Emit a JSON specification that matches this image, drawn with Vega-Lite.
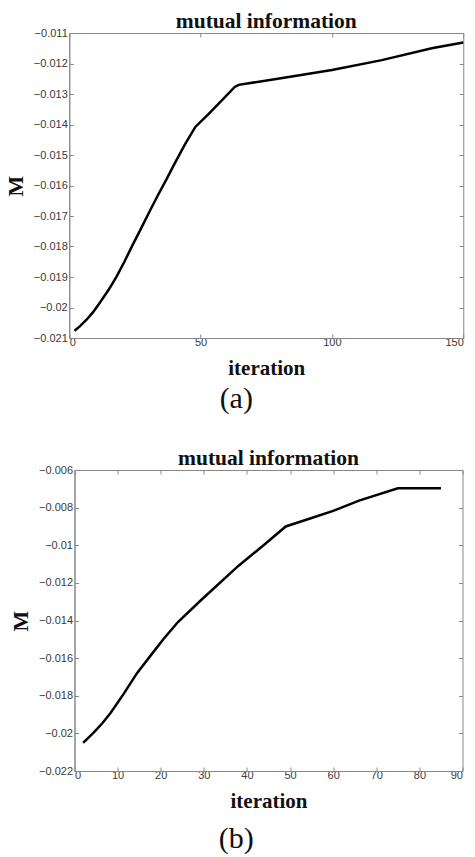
{
  "$schema": "https://vega.github.io/schema/vega-lite/v6.json",
  "background": "white",
  "padding": {"left": 3, "top": 10, "right": 0, "bottom": 0},
  "spacing": 33,
  "center": true,
  "datasets": {
    "a": [
      {"iteration": 2, "M": -0.02076},
      {"iteration": 4, "M": -0.02062},
      {"iteration": 6.5, "M": -0.02041},
      {"iteration": 9, "M": -0.02016},
      {"iteration": 11.5, "M": -0.01986},
      {"iteration": 15, "M": -0.01942},
      {"iteration": 18, "M": -0.01899},
      {"iteration": 21, "M": -0.01850},
      {"iteration": 24, "M": -0.01797},
      {"iteration": 27.5, "M": -0.01738},
      {"iteration": 31, "M": -0.01678},
      {"iteration": 34, "M": -0.01628},
      {"iteration": 37, "M": -0.01580},
      {"iteration": 40, "M": -0.01530},
      {"iteration": 44, "M": -0.01466},
      {"iteration": 48, "M": -0.01408},
      {"iteration": 53, "M": -0.01366},
      {"iteration": 58, "M": -0.01322},
      {"iteration": 63, "M": -0.01277},
      {"iteration": 64.5, "M": -0.01270},
      {"iteration": 80, "M": -0.01249},
      {"iteration": 100, "M": -0.01221},
      {"iteration": 119, "M": -0.01189},
      {"iteration": 138, "M": -0.01150},
      {"iteration": 150, "M": -0.01131}
    ],
    "b": [
      {"iteration": 2, "M": -0.02050},
      {"iteration": 4.5, "M": -0.01995},
      {"iteration": 6.5, "M": -0.01945},
      {"iteration": 8.4, "M": -0.01890},
      {"iteration": 11.4, "M": -0.01790},
      {"iteration": 14.5, "M": -0.01680},
      {"iteration": 17.6, "M": -0.01588},
      {"iteration": 20.7, "M": -0.01497},
      {"iteration": 24, "M": -0.01408},
      {"iteration": 29.2, "M": -0.01295},
      {"iteration": 38, "M": -0.01110},
      {"iteration": 44, "M": -0.00997},
      {"iteration": 49, "M": -0.00900},
      {"iteration": 55, "M": -0.00855},
      {"iteration": 60, "M": -0.00817},
      {"iteration": 66, "M": -0.00763},
      {"iteration": 75, "M": -0.00697},
      {"iteration": 85, "M": -0.00697}
    ]
  },
  "config": {
    "view": {"stroke": "#888888", "strokeWidth": 1},
    "axis": {
      "grid": false,
      "domainColor": "#888888",
      "tickColor": "#888888",
      "tickSize": -4,
      "labelFont": "Liberation Sans",
      "labelFontSize": 11,
      "labelColor": "#3a3a3a",
      "labelPadding": 6,
      "titleFont": "Liberation Serif",
      "titleFontWeight": "bold",
      "titleColor": "#111111"
    },
    "axisX": {"labelPadding": 2},
    "title": {"font": "Liberation Serif", "color": "#111111", "anchor": "middle"}
  },
  "vconcat": [
    {
      "title": {"text": "(a)", "orient": "bottom", "fontSize": 30, "fontWeight": "normal", "offset": 5, "anchor": "middle"},
      "vconcat": [
        {
          "title": {"text": "mutual information", "fontSize": 21.5, "fontWeight": "bold", "offset": -5, "anchor": "middle"},
          "width": 394,
          "height": 305,
          "data": {"name": "a"},
          "layer": [
            {
              "mark": {"type": "line", "color": "black", "strokeWidth": 2.5},
              "encoding": {
                "x": {"field": "iteration", "type": "quantitative", "scale": {"domain": [0, 150], "nice": false},
                  "axis": {"values": [0, 50, 100, 150], "format": "d", "title": "iteration", "titleFontSize": 21, "titlePadding": 10}},
                "y": {"field": "M", "type": "quantitative", "scale": {"domain": [-0.021, -0.011], "nice": false, "zero": false},
                  "axis": {"values": [-0.021, -0.02, -0.019, -0.018, -0.017, -0.016, -0.015, -0.014, -0.013, -0.012, -0.011], "format": ".3~f", "title": "M", "titleFontSize": 22, "titlePadding": 6}}
              }
            },
            {
              "mark": {"type": "line", "opacity": 0},
              "encoding": {
                "x": {"field": "iteration", "type": "quantitative",
                  "axis": {"orient": "top", "values": [0, 50, 100, 150], "labels": false, "title": null, "domain": false}},
                "y": {"field": "M", "type": "quantitative",
                  "axis": {"orient": "right", "values": [-0.021, -0.02, -0.019, -0.018, -0.017, -0.016, -0.015, -0.014, -0.013, -0.012, -0.011], "labels": false, "title": null, "domain": false}}
              }
            }
          ],
          "resolve": {"axis": {"x": "independent", "y": "independent"}}
        }
      ]
    },
    {
      "title": {"text": "(b)", "orient": "bottom", "fontSize": 30, "fontWeight": "normal", "offset": 12, "anchor": "middle"},
      "vconcat": [
        {
          "title": {"text": "mutual information", "fontSize": 21.5, "fontWeight": "bold", "offset": -5, "anchor": "middle"},
          "width": 388,
          "height": 301,
          "data": {"name": "b"},
          "layer": [
            {
              "mark": {"type": "line", "color": "black", "strokeWidth": 2.5},
              "encoding": {
                "x": {"field": "iteration", "type": "quantitative", "scale": {"domain": [0, 90], "nice": false},
                  "axis": {"values": [0, 10, 20, 30, 40, 50, 60, 70, 80, 90], "format": "d", "title": "iteration", "titleFontSize": 21, "titlePadding": 10}},
                "y": {"field": "M", "type": "quantitative", "scale": {"domain": [-0.022, -0.006], "nice": false, "zero": false},
                  "axis": {"values": [-0.022, -0.02, -0.018, -0.016, -0.014, -0.012, -0.01, -0.008, -0.006], "format": ".3~f", "title": "M", "titleFontSize": 22, "titlePadding": 6}}
              }
            },
            {
              "mark": {"type": "line", "opacity": 0},
              "encoding": {
                "x": {"field": "iteration", "type": "quantitative",
                  "axis": {"orient": "top", "values": [0, 10, 20, 30, 40, 50, 60, 70, 80, 90], "labels": false, "title": null, "domain": false}},
                "y": {"field": "M", "type": "quantitative",
                  "axis": {"orient": "right", "values": [-0.022, -0.02, -0.018, -0.016, -0.014, -0.012, -0.01, -0.008, -0.006], "labels": false, "title": null, "domain": false}}
              }
            }
          ],
          "resolve": {"axis": {"x": "independent", "y": "independent"}}
        }
      ]
    }
  ]
}
